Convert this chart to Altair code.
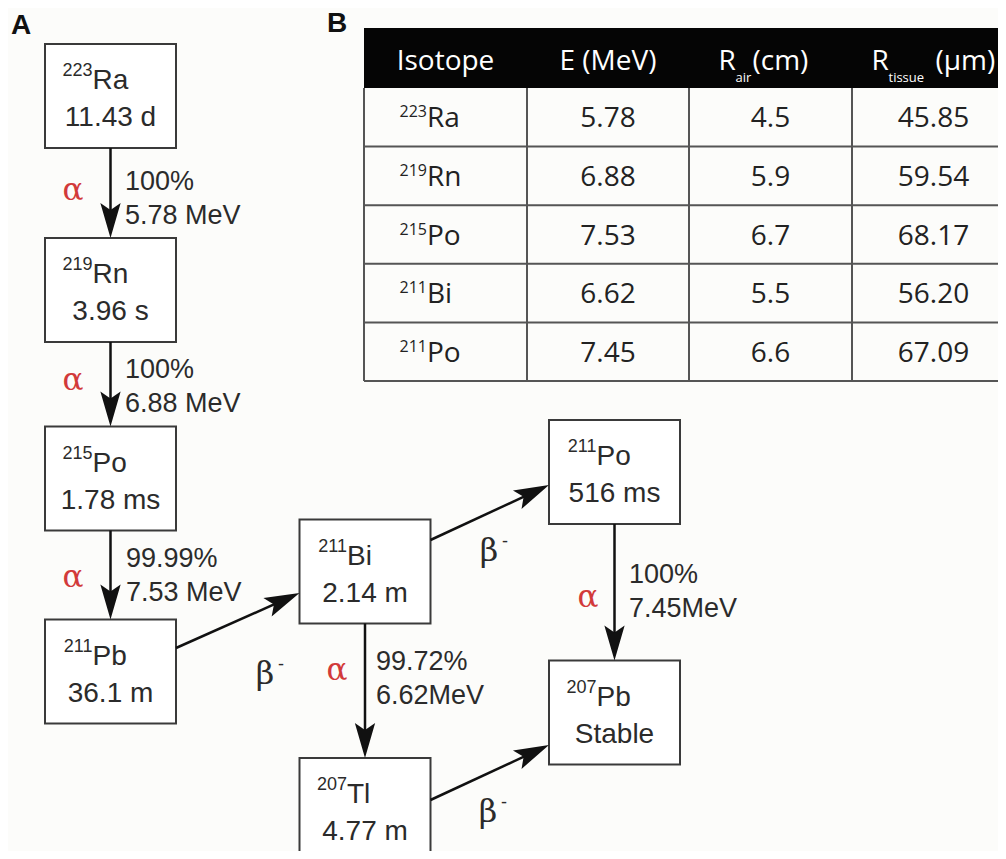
import math
import altair as alt
import pandas as pd

# ---------------- data ----------------
node_id = ["Ra223", "Rn219", "Po215", "Pb211", "Bi211", "Tl207", "Po211", "Pb207"]
node_mass = ["223", "219", "215", "211", "211", "207", "211", "207"]
node_symbol = ["Ra", "Rn", "Po", "Pb", "Bi", "Tl", "Po", "Pb"]
node_halflife = ["11.43 d", "3.96 s", "1.78 ms", "36.1 m", "2.14 m", "4.77 m", "516 ms", "Stable"]

decay_from = ["Ra223", "Rn219", "Po215", "Pb211", "Bi211", "Bi211", "Po211", "Tl207"]
decay_to = ["Rn219", "Po215", "Pb211", "Bi211", "Po211", "Tl207", "Pb207", "Pb207"]
decay_mode = ["alpha", "alpha", "alpha", "beta", "beta", "alpha", "alpha", "beta"]
decay_branch = ["100%", "100%", "99.99%", "", "", "99.72%", "100%", ""]
decay_energy = ["5.78 MeV", "6.88 MeV", "7.53 MeV", "", "", "6.62MeV", "7.45MeV", ""]

header_main = ["Isotope", "E (MeV)", "R", "R"]
header_sub = ["", "", "air", "tissue"]
header_unit = ["", "", "(cm)", "(µm)"]
table_mass = ["223", "219", "215", "211", "211"]
table_symbol = ["Ra", "Rn", "Po", "Bi", "Po"]
table_energy = ["5.78", "6.88", "7.53", "6.62", "7.45"]
table_r_air = ["4.5", "5.9", "6.7", "5.5", "6.6"]
table_r_tissue = ["45.85", "59.54", "68.17", "56.20", "67.09"]

# ---------------- layout (pixel space of the figure) ----------------
node_cx = [110.5, 110.5, 110.5, 110.5, 365, 365, 614.5, 614.5]
node_cy = [96, 290, 478.5, 671.5, 571.5, 810, 472, 712.5]
BOX_W, BOX_H = 131, 104
src_dy = [0, 0, 0, -23.5, -31.5, 0, 0, -10]
dst_dy = [0, 0, 0, 21.5, 13, 0, 0, 32.5]
mode_x = [73, 73, 73, 265, 489, 337, 588, 488]
mode_y = [200, 390, 587, 684, 561, 680, 607, 822]
info_x = [125, 125, 126, 0, 0, 376, 629, 0]
info_y = [190, 378, 567, 0, 0, 670, 583, 0]
HEAD = 35

col_left = [364, 527, 689, 852]
col_right = 1015
head_top, head_bot = 28, 88
row_h = 58.6

SANS = "Liberation Sans"
SERIF = "DejaVu Serif"
TAB = "Open Sans"
INK = "#2b2b2b"

xs = alt.Scale(domain=[8, 998], nice=False, zero=False)
ys = alt.Scale(domain=[8, 851], nice=False, zero=False, reverse=True)


def X(f="x"):
    return alt.X(f"{f}:Q", scale=xs, axis=None)


def Y(f="y"):
    return alt.Y(f"{f}:Q", scale=ys, axis=None)


def text_layer(df, **kw):
    base = dict(baseline="alphabetic")
    base.update(kw)
    return alt.Chart(df).mark_text(**base).encode(x=X(), y=Y(), text="t:N")


# ---------------- boxes ----------------
boxes = pd.DataFrame({
    "x": [c - BOX_W / 2 for c in node_cx],
    "x2": [c + BOX_W / 2 for c in node_cx],
    "y": [c - BOX_H / 2 for c in node_cy],
    "y2": [c + BOX_H / 2 for c in node_cy],
})
box_layer = alt.Chart(boxes).mark_rect(fill="white", stroke="#3a3a3a", strokeWidth=2, clip=True).encode(
    x=X(), x2="x2:Q", y=Y(), y2="y2:Q")

sym_df = pd.DataFrame({"x": [c - 18 for c in node_cx], "y": [c - 7 for c in node_cy], "t": node_symbol})
mass_df = pd.DataFrame({"x": [c - 18 for c in node_cx], "y": [c - 20 for c in node_cy], "t": node_mass})
hl_df = pd.DataFrame({"x": node_cx, "y": [c + 30 for c in node_cy], "t": node_halflife})

node_text = [
    text_layer(sym_df, align="left", font=SANS, fontSize=28, color=INK),
    text_layer(mass_df, align="right", font=SANS, fontSize=18, color=INK),
    text_layer(hl_df, align="center", font=SANS, fontSize=28, color=INK),
]

# ---------------- arrows ----------------
idx = {n: i for i, n in enumerate(node_id)}
rows = []
for k, (s, t) in enumerate(zip(decay_from, decay_to)):
    i, j = idx[s], idx[t]
    if node_cx[i] == node_cx[j]:
        x0, y0 = node_cx[i], node_cy[i] + BOX_H / 2
        x1, y1 = node_cx[j], node_cy[j] - BOX_H / 2
    else:
        x0, y0 = node_cx[i] + BOX_W / 2, node_cy[i] + src_dy[k]
        x1, y1 = node_cx[j] - BOX_W / 2, node_cy[j] + dst_dy[k]
    L = math.hypot(x1 - x0, y1 - y0)
    ux, uy = (x1 - x0) / L, (y1 - y0) / L
    rows.append(dict(x=x0, y=y0, x2=x1 - ux * 20, y2=y1 - uy * 20,
                     hx=x1 - ux * HEAD / 2, hy=y1 - uy * HEAD / 2,
                     angle=(math.degrees(math.atan2(uy, ux)) - 90) % 360))
arrows = pd.DataFrame(rows)

arrow_lines = alt.Chart(arrows).mark_rule(color="#111", strokeWidth=2.5).encode(
    x=X(), y=Y(), x2="x2:Q", y2="y2:Q")
head_path = "M0,1 L-0.58,-1 L0,-0.6 L0.58,-1 Z"
arrow_heads = alt.Chart(arrows).mark_point(shape=head_path, filled=True, size=HEAD * HEAD,
                                           color="#111", opacity=1).encode(
    x=X("hx"), y=Y("hy"), angle=alt.Angle("angle:Q", scale=None))

# ---------------- decay labels ----------------
A = [k for k in range(8) if decay_mode[k] == "alpha"]
B = [k for k in range(8) if decay_mode[k] == "beta"]
alpha_df = pd.DataFrame({"x": [mode_x[k] for k in A], "y": [mode_y[k] for k in A], "t": ["α"] * len(A)})
beta_df = pd.DataFrame({"x": [mode_x[k] for k in B], "y": [mode_y[k] for k in B], "t": ["β"] * len(B)})
minus_df = pd.DataFrame({"x": [mode_x[k] + 16 for k in B], "y": [mode_y[k] - 14 for k in B], "t": ["-"] * len(B)})
br_df = pd.DataFrame({"x": [info_x[k] for k in A], "y": [info_y[k] for k in A],
                      "t": [decay_branch[k] for k in A]})
en_df = pd.DataFrame({"x": [info_x[k] for k in A], "y": [info_y[k] + 34 for k in A],
                      "t": [decay_energy[k] for k in A]})

label_layers = [
    text_layer(alpha_df, align="center", font=SERIF, fontSize=31, color="#d23a3a"),
    text_layer(beta_df, align="center", font=SERIF, fontSize=32, color=INK),
    text_layer(minus_df, align="center", font=SANS, fontSize=18, color=INK),
    text_layer(br_df, align="left", font=SANS, fontSize=27, color=INK),
    text_layer(en_df, align="left", font=SANS, fontSize=27, color=INK),
]

# ---------------- panel letters ----------------
panel_df = pd.DataFrame({"x": [21, 337], "y": [34, 32], "t": ["A", "B"]})
panel_layer = text_layer(panel_df, align="center", font=SANS, fontSize=28, fontWeight="bold", color="#111")

# ---------------- table ----------------
col_edges = col_left + [col_right]
col_cx = [(col_edges[i] + col_edges[i + 1]) / 2 for i in range(4)]
n_rows = len(table_energy)
row_lines = [head_bot + row_h * (r + 1) for r in range(n_rows)]
table_bottom = row_lines[-1]

head_rect = alt.Chart(pd.DataFrame({"x": [col_left[0]], "x2": [col_right], "y": [head_top], "y2": [head_bot]})
                      ).mark_rect(fill="#050505", clip=True).encode(x=X(), x2="x2:Q", y=Y(), y2="y2:Q")

hlines = alt.Chart(pd.DataFrame({"x": [col_left[0]] * n_rows, "x2": [col_right] * n_rows,
                                 "y": row_lines})).mark_rule(color="#555", strokeWidth=2, clip=True).encode(
    x=X(), x2="x2:Q", y=Y())
vlines = alt.Chart(pd.DataFrame({"x": col_edges, "y": [head_bot] * 5, "y2": [table_bottom] * 5})
                   ).mark_rule(color="#555", strokeWidth=2, clip=True).encode(x=X(), y=Y(), y2="y2:Q")

hdr_plain = pd.DataFrame({"x": col_cx[:2], "y": [70, 70], "t": header_main[:2]})
hdr_R = pd.DataFrame({"x": [col_cx[2] - 52, col_cx[3] - 62], "y": [70, 70], "t": header_main[2:]})
hdr_sub = pd.DataFrame({"x": [col_cx[2] - 35, col_cx[3] - 45], "y": [82, 82], "t": header_sub[2:]})
hdr_unit = pd.DataFrame({"x": [col_cx[2] - 18, col_cx[3] + 2], "y": [70, 70], "t": header_unit[2:]})

row_base = [head_bot + row_h * (r + 0.5) + 10 for r in range(n_rows)]
cells = pd.DataFrame({
    "x": [col_cx[1]] * n_rows + [col_cx[2]] * n_rows + [col_cx[3]] * n_rows,
    "y": row_base * 3,
    "t": table_energy + table_r_air + table_r_tissue,
})
iso_sym = pd.DataFrame({"x": [427] * n_rows, "y": row_base, "t": table_symbol})
iso_mass = pd.DataFrame({"x": [427] * n_rows, "y": [b - 10 for b in row_base], "t": table_mass})

table_layers = [
    head_rect, hlines, vlines,
    text_layer(hdr_plain, align="center", font=TAB, fontSize=28, color="white"),
    text_layer(hdr_R, align="left", font=TAB, fontSize=28, color="white"),
    text_layer(hdr_sub, align="left", font=TAB, fontSize=13, color="white"),
    text_layer(hdr_unit, align="left", font=TAB, fontSize=28, color="white"),
    text_layer(cells, align="center", font=TAB, fontSize=28, color="#222"),
    text_layer(iso_sym, align="left", font=TAB, fontSize=28, color="#222"),
    text_layer(iso_mass, align="right", font=TAB, fontSize=16, color="#222"),
]

chart = alt.layer(
    *table_layers,
    box_layer, *node_text,
    arrow_lines, arrow_heads,
    *label_layers,
    panel_layer,
).properties(
    width=990, height=843, padding=0, autosize="none", background="#fcfcfa"
).configure_view(strokeOpacity=0)

chart.save("out.html", embed_options={"renderer": "svg", "actions": False})
